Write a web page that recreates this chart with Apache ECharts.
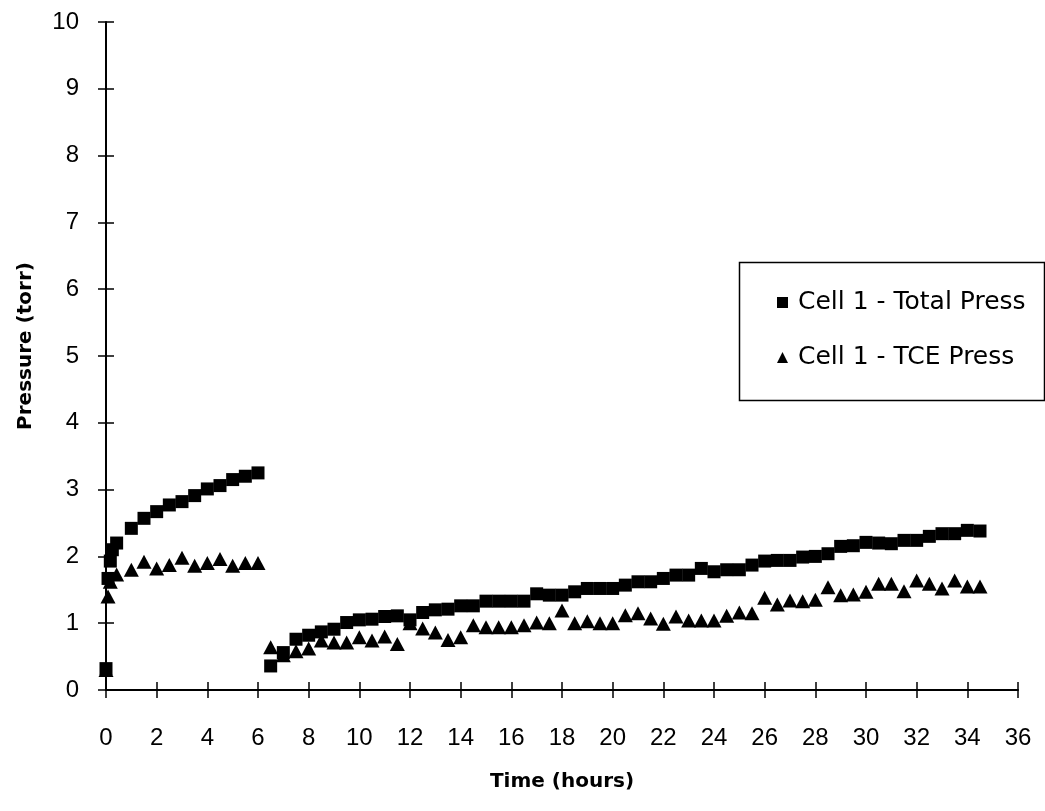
<!DOCTYPE html>
<html><head><meta charset="utf-8">
<script src="https://cdn.jsdelivr.net/npm/echarts@6/dist/echarts.min.js"></script>
<style>html,body{margin:0;padding:0;background:#fff}#c{width:1045px;height:811px}</style>
</head><body><div id="c"></div>
<script>
// Time (hours) and pressure (torr)
var totalTimes = [0, 0.08, 0.17, 0.25, 0.42, 1, 1.5, 2, 2.5, 3, 3.5, 4, 4.5, 5, 5.5, 6,
  6.5, 7, 7.5, 8, 8.5, 9, 9.5, 10, 10.5, 11, 11.5, 12, 12.5, 13, 13.5, 14, 14.5, 15, 15.5, 16, 16.5, 17, 17.5, 18,
  18.5, 19, 19.5, 20, 20.5, 21, 21.5, 22, 22.5, 23, 23.5, 24, 24.5, 25, 25.5, 26, 26.5, 27, 27.5, 28, 28.5, 29,
  29.5, 30, 30.5, 31, 31.5, 32, 32.5, 33, 33.5, 34, 34.5];
var totalPress = [0.32, 1.67, 1.93, 2.1, 2.2, 2.42, 2.57, 2.67, 2.77, 2.82, 2.91, 3.01, 3.06, 3.15, 3.2, 3.25,
  0.36, 0.56, 0.76, 0.82, 0.87, 0.91, 1.01, 1.05, 1.06, 1.10, 1.11, 1.05, 1.16, 1.20, 1.21, 1.26, 1.26, 1.33, 1.33, 1.33, 1.33, 1.44, 1.42, 1.42,
  1.47, 1.52, 1.52, 1.52, 1.57, 1.62, 1.62, 1.67, 1.72, 1.72, 1.82, 1.77, 1.80, 1.80, 1.87, 1.93, 1.94, 1.94, 1.99, 2.0, 2.04, 2.15,
  2.16, 2.21, 2.2, 2.19, 2.24, 2.24, 2.30, 2.34, 2.34, 2.39, 2.38];
var tceTimes = [0, 0.08, 0.17, 0.42, 1, 1.5, 2, 2.5, 3, 3.5, 4, 4.5, 5, 5.5, 6,
  6.5, 7, 7.5, 8, 8.5, 9, 9.5, 10, 10.5, 11, 11.5, 12, 12.5, 13, 13.5, 14, 14.5, 15, 15.5, 16, 16.5, 17, 17.5, 18,
  18.5, 19, 19.5, 20, 20.5, 21, 21.5, 22, 22.5, 23, 23.5, 24, 24.5, 25, 25.5, 26, 26.5, 27, 27.5, 28, 28.5, 29,
  29.5, 30, 30.5, 31, 31.5, 32, 32.5, 33, 33.5, 34, 34.5];
var tcePress = [0.3, 1.4, 1.62, 1.73, 1.8, 1.92, 1.82, 1.87, 1.98, 1.86, 1.9, 1.96, 1.86, 1.9, 1.9,
  0.64, 0.52, 0.58, 0.62, 0.74, 0.71, 0.71, 0.79, 0.74, 0.80, 0.69, 1.0, 0.92, 0.86, 0.75, 0.79, 0.97, 0.94, 0.94, 0.94, 0.97, 1.01, 1.0, 1.19,
  1.0, 1.03, 1.0, 1.0, 1.12, 1.15, 1.07, 0.99, 1.10, 1.04, 1.04, 1.04, 1.11, 1.16, 1.15, 1.38, 1.28, 1.34, 1.33, 1.35, 1.54, 1.42,
  1.43, 1.47, 1.59, 1.59, 1.48, 1.64, 1.59, 1.52, 1.64, 1.55, 1.55];
var seriesNames = ['Cell 1 - Total Press', 'Cell 1 - TCE Press'];

function pairs(xs, ys) { var o = []; for (var i = 0; i < xs.length; i++) o.push([xs[i], ys[i]]); return o; }
function blank() { return ''; }

var chart = echarts.init(document.getElementById('c'), null, {renderer: 'canvas'});
var tickFont = {fontFamily: 'Liberation Sans, Arial, sans-serif', fontSize: 24, color: '#000'};
var titleFont = {fontFamily: 'DejaVu Sans, sans-serif', fontSize: 20, fontWeight: 'bold', color: '#000'};
var gridH = 811 - 22 - 121;
var gridW = 1045 - 106 - 27;
var half = 8; // half-length of the crossing ticks
chart.setOption({
  animation: false,
  backgroundColor: '#fff',
  grid: {left: 106, right: 27, top: 22, bottom: 121},
  xAxis: [{
    // labelled axis, shifted half a tick inward so its long ticks cross the visible axis line
    type: 'value', min: 0, max: 36, interval: 2, position: 'bottom', offset: -half,
    name: 'Time (hours)', nameLocation: 'middle', nameGap: 82 + half, nameTextStyle: titleFont,
    axisLine: {show: true, onZero: false, lineStyle: {color: 'rgba(0,0,0,0)', width: 1}},
    axisTick: {show: true, length: 2 * half, lineStyle: {color: '#000', width: 1.5}},
    axisLabel: Object.assign({margin: 36 + half}, tickFont),
    splitLine: {show: false}
  }, {
    // visible axis line on the bottom edge
    type: 'value', min: 0, max: 36, interval: 2, position: 'top', offset: -gridH,
    axisLine: {show: true, onZero: false, lineStyle: {color: '#000', width: 2}},
    axisTick: {show: false},
    axisLabel: {show: true, formatter: blank}, splitLine: {show: false}
  }],
  yAxis: [{
    type: 'value', min: 0, max: 10, interval: 1, position: 'left', offset: -half,
    name: 'Pressure (torr)', nameLocation: 'middle', nameGap: 70 + half,
    nameTextStyle: Object.assign({padding: [0, 0, 0, 20]}, titleFont),
    axisLine: {show: true, onZero: false, lineStyle: {color: 'rgba(0,0,0,0)', width: 1}},
    axisTick: {show: true, length: 2 * half, lineStyle: {color: '#000', width: 1.5}},
    axisLabel: Object.assign({margin: 27 + half}, tickFont),
    splitLine: {show: false}
  }, {
    // visible axis line on the left edge
    type: 'value', min: 0, max: 10, interval: 1, position: 'right', offset: -gridW,
    axisLine: {show: true, onZero: false, lineStyle: {color: '#000', width: 2}},
    axisTick: {show: false},
    axisLabel: {show: true, formatter: blank}, splitLine: {show: false}
  }],
  legend: {
    orient: 'vertical', left: 772, top: 285, itemGap: 30,
    itemWidth: 11, itemHeight: 11,
    textStyle: {fontFamily: 'DejaVu Sans, sans-serif', fontSize: 25, color: '#000', padding: [0, 0, 0, 5]},
    data: [{name: seriesNames[0], icon: 'rect'}, {name: seriesNames[1], icon: 'triangle'}]
  },
  graphic: [{
    type: 'rect', left: 737, top: 260, shape: {width: 305, height: 138},
    style: {fill: 'none', stroke: '#000', lineWidth: 1.5}, z: 10
  }],
  series: [{
    name: seriesNames[0], type: 'scatter', symbol: 'rect', symbolSize: 13,
    xAxisIndex: 0, yAxisIndex: 0,
    itemStyle: {color: '#000', opacity: 1}, data: pairs(totalTimes, totalPress)
  }, {
    name: seriesNames[1], type: 'scatter', symbol: 'triangle', symbolSize: [15, 14],
    xAxisIndex: 1, yAxisIndex: 1,
    itemStyle: {color: '#000', opacity: 1}, data: pairs(tceTimes, tcePress)
  }]
});
</script></body></html>
